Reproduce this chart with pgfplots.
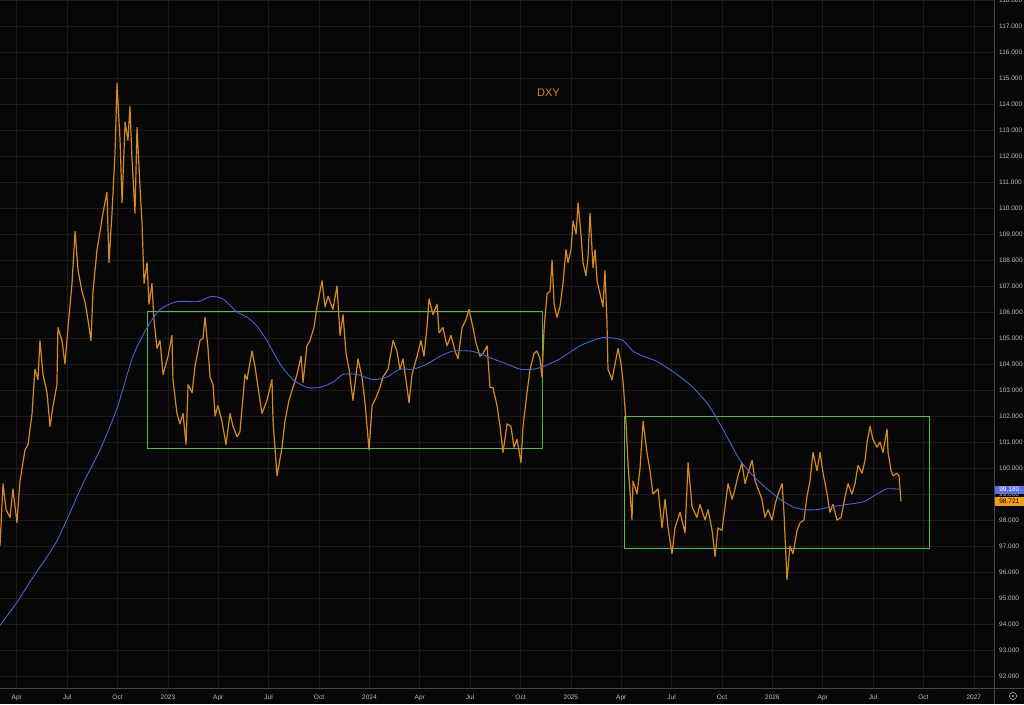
\documentclass[border=0pt]{standalone}
\usepackage{pgfplots}
\pgfplotsset{compat=1.18}
\usepackage{pgfplotstable}
\usepackage{fontspec}
\setmainfont{Liberation Sans}
\definecolor{bgc}{RGB}{7,7,7}
\definecolor{gridc}{RGB}{27,27,27}
\definecolor{axc}{RGB}{70,70,70}
\definecolor{tickc}{RGB}{190,190,190}
\definecolor{orangec}{RGB}{214,137,30}
\definecolor{bluec}{RGB}{76,96,212}
\definecolor{greenc}{RGB}{86,184,86}
\definecolor{bluebox}{RGB}{92,112,226}
\definecolor{orangebox}{RGB}{245,155,28}

\pgfplotstableread{
m v
2.00 97.0
2.18 99.4
2.36 98.4
2.60 98.1
2.77 99.2
3.01 97.9
3.19 99.5
3.49 100.7
3.67 100.9
3.91 102.1
4.08 103.8
4.26 103.4
4.38 104.9
4.56 103.6
4.80 102.9
4.98 101.6
5.16 102.4
5.39 103.2
5.45 105.4
5.69 104.9
5.87 104.0
6.05 105.4
6.29 107.1
6.47 109.1
6.65 107.6
6.88 106.8
7.06 106.4
7.24 105.7
7.42 104.9
7.54 106.8
7.78 108.4
7.96 109.1
8.13 109.8
8.37 110.6
8.49 107.9
8.67 109.8
8.85 112.1
8.97 114.8
9.15 112.6
9.27 110.2
9.45 113.3
9.62 112.6
9.74 113.9
9.86 111.9
10.04 109.8
10.16 113.1
10.34 110.8
10.46 109.4
10.58 107.1
10.76 107.9
10.87 106.3
11.05 107.1
11.17 105.7
11.35 104.6
11.53 104.9
11.71 103.6
12.01 104.3
12.24 105.1
12.30 103.4
12.54 102.1
12.72 101.7
12.90 102.1
13.08 100.9
13.20 103.2
13.44 102.9
13.61 103.9
13.91 104.9
14.09 105.0
14.21 105.8
14.39 104.6
14.51 103.5
14.69 103.2
14.81 102.0
14.98 102.4
15.22 101.8
15.46 100.9
15.70 102.1
15.88 101.6
16.12 101.2
16.29 101.4
16.47 102.7
16.59 103.6
16.71 103.4
17.01 104.5
17.19 103.9
17.37 103.1
17.60 102.1
17.90 102.6
18.20 103.4
18.26 101.8
18.50 99.7
18.80 100.8
18.97 101.8
19.21 102.6
19.45 103.1
19.69 103.6
19.93 104.3
20.05 103.3
20.28 104.7
20.46 104.9
20.70 105.4
20.88 106.2
21.18 107.2
21.36 106.2
21.54 106.6
21.83 106.1
22.07 107.0
22.25 105.1
22.43 105.9
22.61 104.4
22.79 103.8
23.02 102.6
23.32 104.2
23.56 103.5
23.74 102.5
23.98 100.7
24.16 102.4
24.39 102.7
24.63 103.1
24.81 103.5
25.11 103.8
25.41 104.9
25.64 104.5
25.82 103.8
26.00 104.2
26.24 103.1
26.36 102.5
26.54 103.6
26.84 104.3
27.07 104.9
27.25 104.3
27.43 105.4
27.55 106.5
27.79 105.9
28.03 106.3
28.15 105.2
28.38 105.4
28.62 104.7
28.86 105.1
29.10 104.5
29.28 104.2
29.52 105.4
29.75 105.7
29.93 106.1
30.17 105.4
30.35 104.8
30.59 104.3
30.77 104.4
31.01 104.7
31.18 103.1
31.36 103.1
31.60 102.4
31.78 101.6
31.96 100.6
32.20 101.7
32.43 101.6
32.61 100.8
32.79 101.1
33.03 100.2
33.15 101.6
33.39 102.9
33.57 103.8
33.80 104.4
33.98 104.5
34.16 104.2
34.28 103.5
34.40 105.3
34.58 106.7
34.76 106.8
34.88 108.0
35.00 106.3
35.17 105.8
35.35 106.2
35.53 107.1
35.71 108.4
35.83 107.9
36.01 108.4
36.13 109.5
36.31 109.0
36.43 110.2
36.60 109.0
36.72 107.9
36.90 107.4
37.02 108.1
37.14 109.8
37.32 107.7
37.44 108.4
37.56 107.2
37.74 106.7
37.91 106.2
38.03 107.6
38.15 105.6
38.21 103.8
38.45 103.4
38.63 104.0
38.81 104.6
38.99 104.0
39.11 103.3
39.28 101.8
39.40 100.2
39.64 98.0
39.70 99.5
39.94 99.0
40.12 100.0
40.30 101.8
40.53 100.6
40.71 99.9
40.89 99.0
41.19 99.2
41.43 97.7
41.61 98.8
41.79 97.7
42.02 96.7
42.20 97.7
42.50 98.3
42.80 97.5
42.98 100.2
43.22 98.5
43.51 98.1
43.69 98.6
43.99 98.0
44.17 98.4
44.41 97.6
44.59 96.6
44.76 97.7
45.00 97.6
45.18 98.5
45.36 99.4
45.60 98.8
45.78 99.2
45.95 99.7
46.19 100.2
46.37 99.4
46.55 99.8
46.79 100.3
46.97 99.5
47.15 99.2
47.38 98.8
47.56 98.1
47.74 98.4
47.98 98.0
48.16 98.6
48.34 99.0
48.58 99.4
48.69 98.3
48.87 95.7
49.05 97.0
49.23 96.7
49.47 97.6
49.65 97.9
49.88 98.0
50.06 98.9
50.24 99.5
50.42 100.6
50.66 99.9
50.84 100.6
51.02 99.8
51.26 99.0
51.43 98.3
51.61 98.6
51.85 98.0
52.09 98.1
52.33 98.9
52.51 99.4
52.74 99.0
52.92 99.4
53.10 100.1
53.34 99.8
53.52 100.3
53.64 101.0
53.82 101.6
53.99 101.1
54.23 100.8
54.41 101.0
54.59 100.6
54.83 101.5
54.89 100.6
55.07 99.9
55.19 99.7
55.42 99.8
55.54 99.7
55.66 98.72
}\dxy

\pgfplotstableread{
m v
2.00 93.95
3.01 94.84
3.97 95.8
5.39 97.2
6.94 99.4
7.96 100.7
8.97 102.3
9.92 104.3
10.76 105.4
11.53 106.1
12.54 106.4
13.79 106.4
14.57 106.6
15.28 106.5
16.12 106.0
16.71 105.8
17.25 105.5
17.90 104.9
18.68 104.0
19.45 103.4
20.28 103.1
21.06 103.1
21.83 103.3
22.43 103.6
23.26 103.6
24.22 103.4
25.05 103.5
25.82 103.8
26.60 103.8
27.43 104.0
28.21 104.3
28.98 104.5
29.99 104.5
30.59 104.4
31.36 104.2
32.20 104.0
32.97 103.8
33.75 103.8
34.34 103.9
35.35 104.2
36.54 104.7
37.74 105.0
38.51 105.0
39.11 104.9
39.70 104.5
40.30 104.3
41.13 104.1
42.32 103.6
43.27 103.1
44.11 102.5
44.70 101.9
45.30 101.2
46.07 100.3
46.85 99.7
47.68 99.2
48.46 98.8
49.23 98.5
49.95 98.4
50.66 98.4
51.43 98.5
52.45 98.6
53.40 98.7
54.23 99.0
54.83 99.2
55.66 99.18
}\ma

\begin{document}
\begin{tikzpicture}[x=1pt,y=1pt]
\path[use as bounding box] (0,0) rectangle (1024,704);
\clip (0,0) rectangle (1024,704);
\fill[bgc] (0,0) rectangle (1024,704);
\begin{axis}[
  at={(0pt,16pt)}, anchor=south west,
  scale only axis, width=994pt, height=688pt,
  xmin=2.0, xmax=61.2, ymin=91.54, ymax=118,
  enlargelimits=false, clip=false,
  axis x line*=bottom, axis y line*=right,
  axis line style={draw=axc, line width=0.6pt},
  grid=major, major grid style={draw=gridc, line width=0.6pt},
  tick style={draw=none},
  xtick={3,6,...,60},
  xticklabels={Apr,Jul,Oct,2023,Apr,Jul,Oct,2024,Apr,Jul,Oct,2025,Apr,Jul,Oct,2026,Apr,Jul,Oct,2027},
  ytick={92,93,...,118},
  scaled y ticks=false,
  ticklabel style={font=\fontsize{6.5}{7}\selectfont, text=tickc, inner sep=0pt},
  xticklabel style={anchor=north, yshift=-6.5pt},
  yticklabel style={anchor=west, xshift=5pt, /pgf/number format/.cd, fixed, fixed zerofill, precision=3, 1000 sep={}, assume math mode=true},
]
\addplot[greenc, line width=0.8pt] coordinates {(10.76,100.77) (34.28,100.77) (34.28,106.04) (10.76,106.04) (10.76,100.77)};
\addplot[greenc, line width=0.8pt] coordinates {(39.17,96.92) (57.33,96.92) (57.33,102.0) (39.17,102.0) (39.17,96.92)};
\addplot[orangec, line width=1.2pt, line join=round] table[x=m, y=v] {\dxy};
\addplot[bluec, line width=0.9pt, smooth, tension=0.4] table[x=m, y=v] {\ma};
\coordinate (bb) at (axis cs:61.2,99.17);
\coordinate (ob) at (axis cs:61.2,98.71);
\end{axis}
\draw[axc, line width=0.6pt] (0,16) -- (1024,16);
\draw[axc, line width=0.6pt] (994,0) -- (994,704);
\node[fill=bluebox, text=white, font=\fontsize{6.5}{7}\selectfont, anchor=west, minimum width=29pt, minimum height=7.8pt, inner sep=0pt] at ([xshift=0.6pt]bb) {99.180};
\node[fill=orangebox, text=black, font=\fontsize{6.5}{7}\selectfont, anchor=west, minimum width=29pt, minimum height=8.6pt, inner sep=0pt] at ([xshift=0.6pt]ob) {98.721};
\node[text=orangec, font=\fontsize{11}{12}\selectfont] at (548.5,611) {DXY};
\draw[tickc, line width=0.5pt] (1013,8) circle (3.6pt);
\fill[tickc] (1013,8) circle (1.1pt);
\end{tikzpicture}
\end{document}
